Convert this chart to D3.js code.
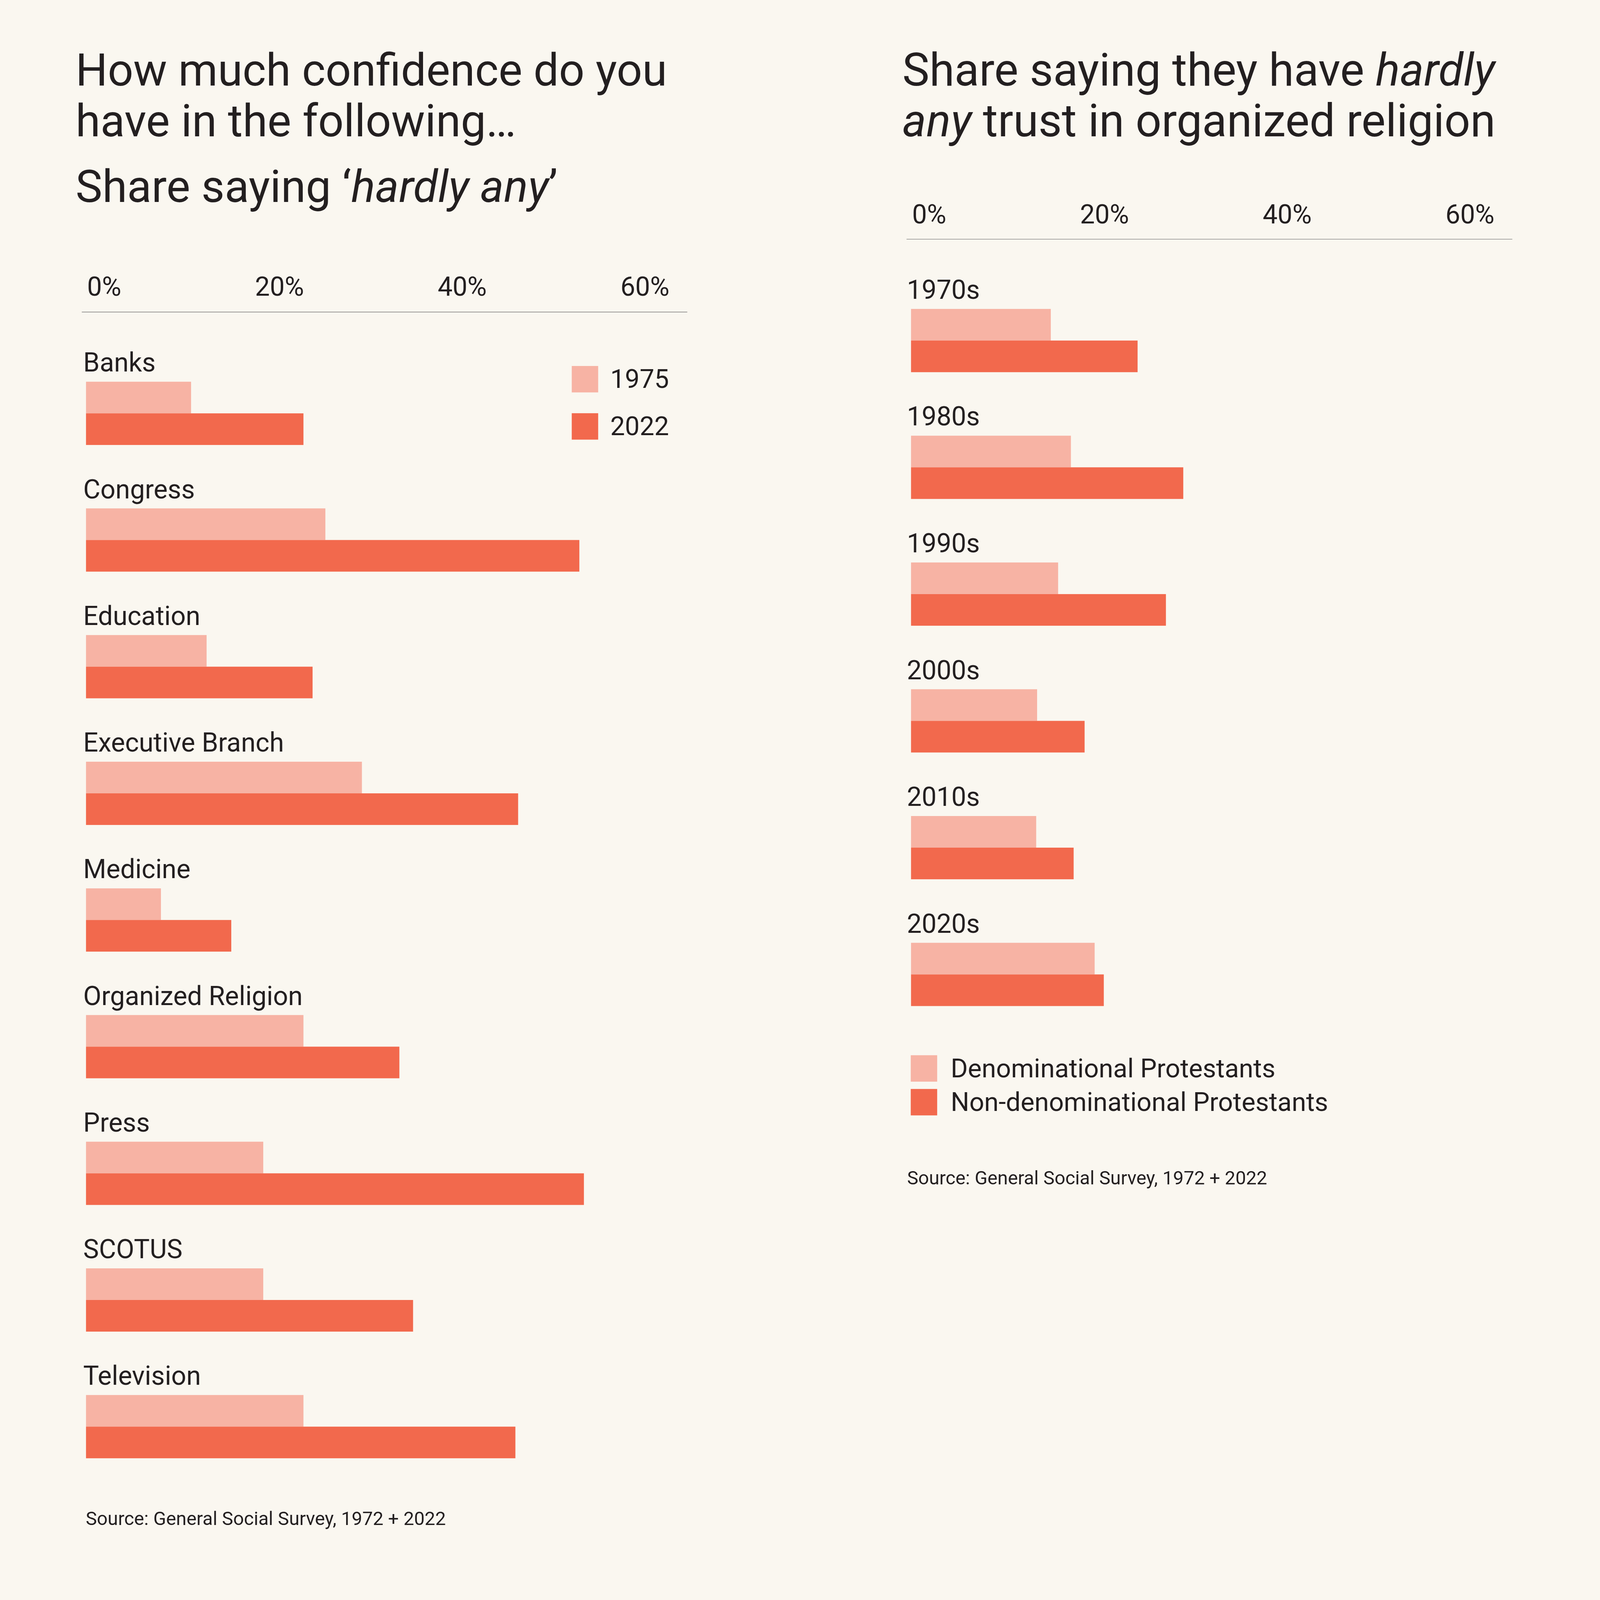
<!DOCTYPE html>
<html>
<head>
<meta charset="utf-8">
<script src="https://cdn.jsdelivr.net/npm/d3@7"></script>
<style>
  html, body { margin: 0; padding: 0; background: #faf7f0; overflow: hidden; }
  svg { display: block; }
  text { font-family: Roboto, "Liberation Sans", sans-serif; fill: #231f20; }
</style>
</head>
<body>
<div id="chart"></div>
<script>
  "use strict";

  // left chart: share saying "hardly any" confidence
  var institutions = ["Banks", "Congress", "Education", "Executive Branch", "Medicine",
                      "Organized Religion", "Press", "SCOTUS", "Television"];
  var years = ["1975", "2022"];
  var share1975 = [11.5, 26.2, 13.2, 30.2, 8.2, 23.8, 19.4, 19.4, 23.8];
  var share2022 = [23.8, 54.0, 24.8, 47.3, 15.9, 34.3, 54.5, 35.8, 47.0];

  // right chart: hardly any trust in organized religion, by decade
  var decades = ["1970s", "1980s", "1990s", "2000s", "2010s", "2020s"];
  var groups = ["Denominational Protestants", "Non-denominational Protestants"];
  var denominational = [15.3, 17.5, 16.1, 13.8, 13.7, 20.1];
  var nonDenominational = [24.8, 29.8, 27.9, 19.0, 17.8, 21.1];

  var ticks = [0, 20, 40, 60];
  var source = "Source: General Social Survey, 1972 + 2022";

  var width = 5692,
      height = 5597,
      lightColor = "#f7b3a4",
      darkColor = "#f2694d";

  // scale the drawing to the window, pinned to the top left corner
  var svg = d3.select("#chart").append("svg")
      .attr("viewBox", "0 0 " + width + " " + height)
      .attr("preserveAspectRatio", "xMinYMin meet")
      .style("width", "100vw")
      .style("height", "100vh")
      .style("background", "#faf7f0");

  function drawPanel(opt) {
    var g = svg.append("g");

    var x = d3.scaleLinear()
        .domain([0, 60])
        .range([opt.x0, opt.x0 + 1950]);

    var y = d3.scalePoint()
        .domain(opt.categories)
        .range([opt.top, opt.top + (opt.categories.length - 1) * opt.step]);

    var inner = d3.scaleBand()
        .domain(opt.series)
        .range([0, 225]);

    var color = d3.scaleOrdinal()
        .domain(opt.series)
        .range([lightColor, darkColor]);

    // tick labels
    var axis = g.append("g")
        .attr("transform", "translate(0," + opt.tickY + ")")
        .call(d3.axisTop(x).tickValues(ticks).tickSize(0).tickPadding(0)
            .tickFormat(function(d) { return d + "%"; }));
    axis.select(".domain").remove();
    axis.selectAll("text")
        .attr("x", 125)
        .attr("text-anchor", "end")
        .attr("fill", "#231f20")
        .style("font-family", "Roboto, 'Liberation Sans', sans-serif")
        .style("font-size", "94px");

    // rule under the ticks
    g.append("line")
        .attr("x1", opt.ruleX[0])
        .attr("x2", opt.ruleX[1])
        .attr("y1", opt.ruleY)
        .attr("y2", opt.ruleY)
        .attr("stroke", "#7a7a7a")
        .attr("stroke-width", 2);

    var rows = opt.categories.map(function(c, i) {
      return { name: c, values: [opt.values[0][i], opt.values[1][i]] };
    });

    var row = g.selectAll("g.row")
        .data(rows)
      .enter().append("g")
        .attr("class", "row")
        .attr("transform", function(d) { return "translate(0," + y(d.name) + ")"; });

    row.append("text")
        .attr("x", opt.x0 + opt.labelDx)
        .attr("y", -36)
        .style("font-size", "94px")
        .text(function(d) { return d.name; });

    row.selectAll("rect")
        .data(function(d) {
          return d.values.map(function(v, j) { return { key: opt.series[j], value: v }; });
        })
      .enter().append("rect")
        .attr("x", x(0))
        .attr("y", function(d) { return inner(d.key); })
        .attr("width", function(d) { return x(d.value) - x(0); })
        .attr("height", inner.bandwidth())
        .attr("fill", function(d) { return color(d.key); });

    // legend
    var lg = g.selectAll("g.legend")
        .data(opt.series)
      .enter().append("g")
        .attr("class", "legend")
        .attr("transform", function(d, i) {
          return "translate(" + opt.legend.x + "," + (opt.legend.y + i * opt.legend.step) + ")";
        });
    lg.append("rect")
        .attr("width", 94)
        .attr("height", 94)
        .attr("fill", function(d) { return color(d); });
    lg.append("text")
        .attr("x", opt.legend.textX)
        .attr("y", 78)
        .style("font-size", opt.legend.size + "px")
        .text(function(d) { return d; });

    g.append("text")
        .attr("x", opt.sourceX)
        .attr("y", opt.sourceY)
        .style("font-size", "67px")
        .text(source);

    return g;
  }

  drawPanel({
    categories: institutions,
    series: years,
    values: [share1975, share2022],
    x0: 306,
    labelDx: -10,
    top: 1358,
    step: 450.6,
    tickY: 1052,
    ruleY: 1110,
    ruleX: [291, 2445],
    legend: { x: 2034, y: 1302, step: 168, textX: 137, size: 93 },
    sourceX: 305,
    sourceY: 5425
  });

  drawPanel({
    categories: decades,
    series: groups,
    values: [denominational, nonDenominational],
    x0: 3241,
    labelDx: -15,
    top: 1099,
    step: 451,
    tickY: 795,
    ruleY: 851,
    ruleX: [3225, 5380],
    legend: { x: 3240, y: 3754, step: 120, textX: 142, size: 93 },
    sourceX: 3227,
    sourceY: 4213
  });

  // titles
  var t1 = svg.append("text")
      .style("font-size", "160px");
  t1.append("tspan").attr("x", 269).attr("y", 304).text("How much confidence do you");
  t1.append("tspan").attr("x", 269).attr("y", 485).text("have in the following\u2026");

  var t2 = svg.append("text")
      .attr("x", 269)
      .attr("y", 719)
      .style("font-size", "160px");
  t2.append("tspan").text("Share saying \u2018");
  t2.append("tspan").style("font-style", "italic").text("hardly any");
  t2.append("tspan").text("\u2019");

  var t3 = svg.append("text")
      .style("font-size", "162px");
  var l1 = t3.append("tspan").attr("x", 3210).attr("y", 304);
  l1.append("tspan").text("Share saying they have ");
  l1.append("tspan").style("font-style", "italic").text("hardly");
  var l2 = t3.append("tspan").attr("x", 3210).attr("y", 485);
  l2.append("tspan").style("font-style", "italic").text("any");
  l2.append("tspan").text(" trust in organized religion");
</script>
</body>
</html>
